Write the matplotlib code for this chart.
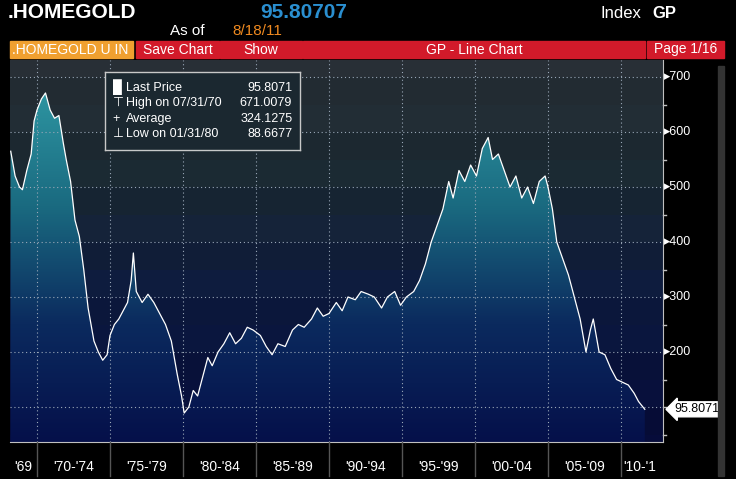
import matplotlib
matplotlib.use("Agg")
import matplotlib.pyplot as plt
import numpy as np
from matplotlib.colors import LinearSegmentedColormap
from matplotlib.patches import Rectangle, Polygon

plt.rcParams['font.family'] = ['Liberation Sans Narrow', 'Liberation Sans', 'DejaVu Sans']

years = [1968.2,1968.5,1968.8,1969.0,1969.3,1969.6,1969.8,1970.0,1970.3,1970.58,1970.9,1971.2,1971.5,1971.8,
 1972.0,1972.3,1972.6,1972.9,1973.2,1973.5,1973.9,1974.2,1974.5,1974.8,1975.0,1975.3,1975.6,1975.9,1976.2,
 1976.45,1976.6,1976.8,1977.2,1977.6,1978.0,1978.4,1978.8,1979.2,1979.6,1979.9,1980.08,1980.4,1980.7,1981.0,
 1981.3,1981.7,1982.0,1982.4,1982.8,1983.2,1983.6,1984.0,1984.4,1984.8,1985.3,1985.7,1986.1,1986.5,1987.0,
 1987.5,1987.9,1988.3,1988.8,1989.2,1989.6,1990.0,1990.5,1990.9,1991.3,1991.8,1992.2,1992.7,1993.1,1993.6,
 1994.0,1994.5,1994.9,1995.3,1995.8,1996.2,1996.6,1997.0,1997.4,1997.8,1998.2,1998.5,1998.9,1999.3,1999.7,
 2000.1,2000.5,2000.9,2001.2,2001.6,2002.0,2002.4,2002.8,2003.2,2003.6,2004.0,2004.4,2004.8,2005.0,2005.3,
 2005.6,2006.0,2006.4,2006.8,2007.2,2007.6,2007.9,2008.1,2008.5,2008.9,2009.3,2009.7,2010.1,2010.5,2010.9,
 2011.2,2011.5,2011.63]
values = [565,520,500,495,530,560,620,640,660,671,640,625,630,580,
 550,510,440,410,350,280,220,200,185,195,230,250,260,275,290,
 330,380,310,290,305,290,270,250,220,160,120,89,100,130,120,
 150,190,175,200,215,235,215,225,245,240,230,210,195,215,210,
 240,250,245,260,280,265,270,290,275,300,295,310,305,300,280,
 300,310,285,300,310,330,360,400,430,460,510,480,530,510,540,
 520,570,590,550,560,530,500,520,480,500,470,510,520,500,460,
 400,370,340,300,260,200,240,260,200,195,170,150,145,140,125,
 110,100,95.8071]
gridlines = [100,200,300,400,500,600,700]
ytick_labels = [200,300,400,500,600,700]
period_labels = ["'69","'70-'74","'75-'79","'80-'84","'85-'89","'90-'94","'95-'99","'00-'04","'05-'09","'10-'1"]
period_bounds = [1970,1975,1980,1985,1990,1995,2000,2005,2010]

W, H = 736, 479
fig = plt.figure(figsize=(W/100, H/100), dpi=100, facecolor='black')
x0 = 1968.15
px_per_year = 14.6
x1 = x0 + 653/px_per_year
ylo, yhi = 100 - (442-407)/0.55, 100 + (407-60)/0.55

ax = fig.add_axes([10/W, (H-442)/H, 653/W, 382/H])
ax.set_xlim(x0, x1); ax.set_ylim(ylo, yhi)
ax.set_facecolor('black')

bg = LinearSegmentedColormap.from_list('bg', ['#060c3a', '#0c1a40', '#1b2a33', '#2a3037'])
edges = np.arange(0, 800, 50)
for i, e in enumerate(edges):
    t = np.clip((e - ylo)/(yhi - ylo), 0, 1)
    c = bg(t)
    shade = 0.93 if i % 2 else 1.0
    ax.add_patch(Rectangle((x0, e), x1-x0, 50, color=tuple(np.array(c[:3])*shade), zorder=0, lw=0))

fillc = LinearSegmentedColormap.from_list('fill', ['#05104a', '#0b2a5e', '#1a6a80', '#2e96a2'])
grad = np.linspace(0, 1, 256).reshape(-1, 1)
im = ax.imshow(grad, cmap=fillc, origin='lower', aspect='auto',
               extent=[x0, x1, ylo, 680], zorder=1)
poly = Polygon(list(zip(years, values)) + [(years[-1], ylo), (years[0], ylo)], closed=True,
               transform=ax.transData, facecolor='none', edgecolor='none')
ax.add_patch(poly)
im.set_clip_path(poly)
ax.set_xlim(x0, x1); ax.set_ylim(ylo, yhi)

for b in period_bounds:
    ax.axvline(b, color='#9aa8b8', lw=0.8, ls=(0, (1, 2.5)), zorder=2)
for yv in gridlines:
    ax.axhline(yv, color='#9aa8b8', lw=0.8, ls=(0, (1, 2.5)), zorder=2)
ax.plot(years, values, color='white', lw=0.9, zorder=3)

ax.set_xticks([]); ax.set_yticks([])
for s in ['top', 'left']:
    ax.spines[s].set_visible(False)
for s in ['right', 'bottom']:
    ax.spines[s].set_color('#c0c0c0')

for yv in ytick_labels:
    ax.text(x1 + 0.1, yv, '\u25b8' + str(yv), color='white', fontsize=9, va='center', ha='left', clip_on=False)
for yv in [150, 250, 350, 450, 550, 650, 100, 50]:
    ax.plot([x1, x1 + 0.2], [yv, yv], color='#c0c0c0', lw=1, clip_on=False)
ax.text(x1 + 0.75, values[-1], '%.4f' % values[-1], color='black', fontsize=9, va='center', ha='left',
        clip_on=False, bbox=dict(boxstyle='larrow,pad=0.12', fc='white', ec='white'))

mids = [(x0 + 1970)/2] + [b + 2.5 for b in period_bounds[:-1]] + [2011.3]
for m, lab in zip(mids, period_labels):
    fig.text((10 + (m - x0)*px_per_year)/W, (H-467)/H, lab, color='white', fontsize=10, ha='center', va='center')
for b in period_bounds:
    xp = (10 + (b - x0)*px_per_year)/W
    fig.add_artist(plt.Line2D([xp, xp], [(H-476)/H, (H-442)/H], color='#555555', lw=1))

lb = fig.add_axes([105/W, (H-150)/H, 195/W, 78/H])
lb.set_facecolor('#1b2830'); lb.set_xticks([]); lb.set_yticks([])
for s in lb.spines.values(): s.set_color('#c8c8c8'); s.set_linewidth(1)
rows = [('\u2588', 'Last Price', '95.8071'), ('\u22a4', 'High on 07/31/70', '671.0079'),
        ('+', 'Average', '324.1275'), ('\u22a5', 'Low on 01/31/80', '88.6677')]
for i, (sym, lab, v) in enumerate(rows):
    yy = 0.80 - i*0.2
    lb.text(0.04, yy, sym, color='white', fontsize=9, va='center', transform=lb.transAxes)
    lb.text(0.11, yy, lab, color='white', fontsize=9, va='center', transform=lb.transAxes)
    lb.text(0.96, yy, v, color='white', fontsize=9, va='center', ha='right', transform=lb.transAxes)

fig.text(8/W, (H-13)/H, '.HOMEGOLD', color='white', fontsize=15, fontweight='bold', va='center')
fig.text(260/W, (H-13)/H, '95.80707', color='#2a8fd0', fontsize=15, fontweight='bold', va='center')
fig.text(600/W, (H-13)/H, 'Index', color='white', fontsize=12, va='center')
fig.text(652/W, (H-13)/H, 'GP', color='white', fontsize=12, fontweight='bold', va='center')
fig.text(170/W, (H-31)/H, 'As of', color='white', fontsize=11, va='center')
fig.text(232/W, (H-31)/H, '8/18/11', color='#f08a20', fontsize=11, va='center')

def bar(xa, xb, color, text, tcolor='white', ha='center'):
    fig.add_artist(Rectangle((xa/W, (H-58)/H), (xb-xa)/W, 17/H, transform=fig.transFigure, color=color))
    xt = (xa+xb)/2 if ha == 'center' else xa + 2
    fig.text(xt/W, (H-49.5)/H, text, color=tcolor, fontsize=10, ha=ha, va='center')

bar(10, 133, '#f0a030', '.HOMEGOLD U IN', 'white', 'left')
bar(136, 219, '#d21a2a', 'Save Chart')
bar(220, 302, '#d21a2a', 'Show')
bar(303, 645, '#d21a2a', 'GP - Line Chart')
bar(647, 724, '#d21a2a', 'Page 1/16')

fig.add_artist(Rectangle((718/W, (H-476)/H), 6/W, 410/H, transform=fig.transFigure, color='#333333'))

fig.savefig('out.png', dpi=100, facecolor='black')
